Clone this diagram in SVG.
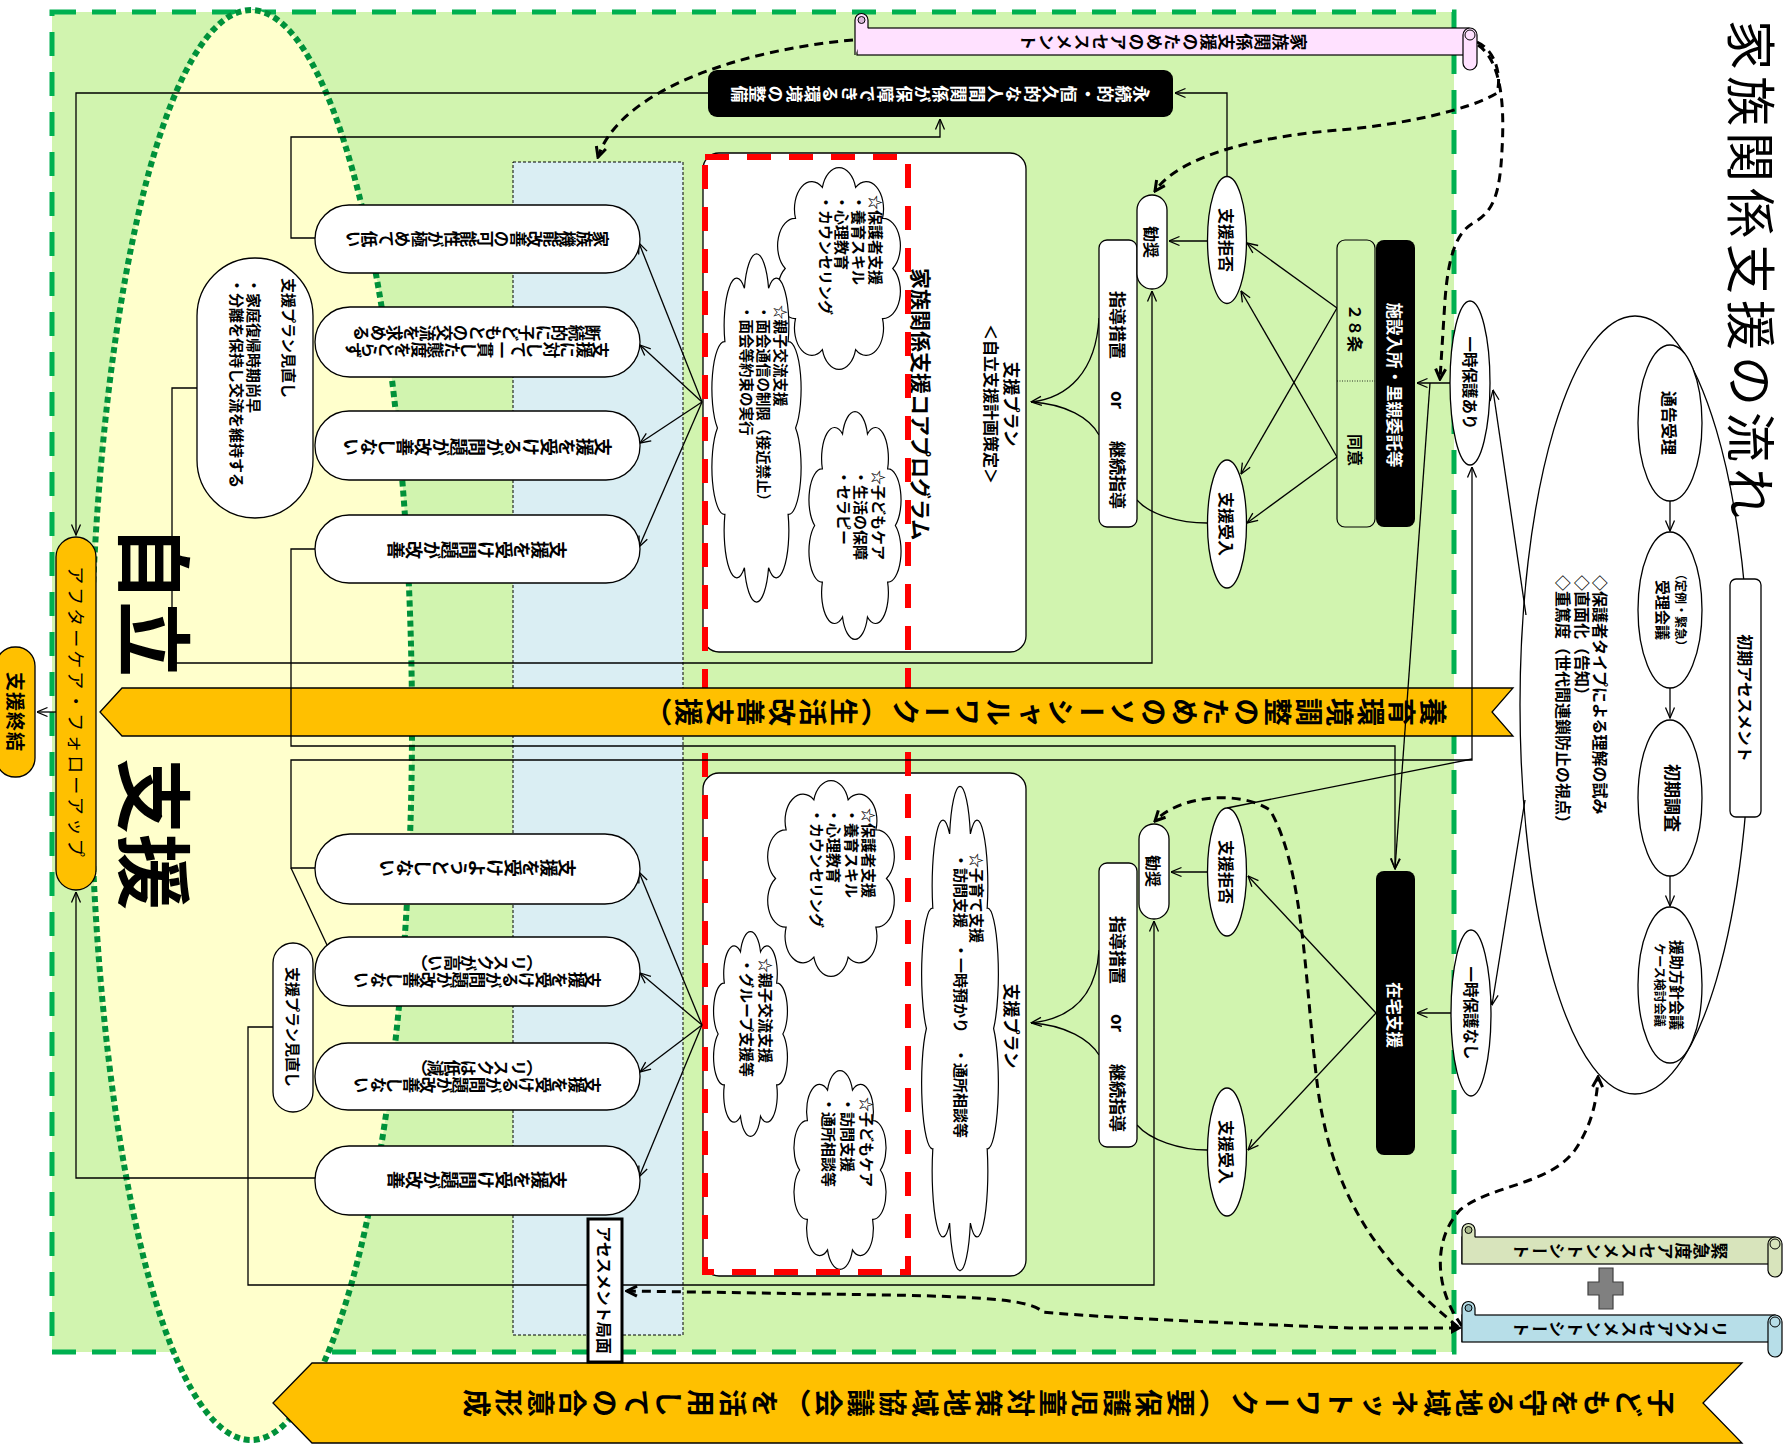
<svg xmlns="http://www.w3.org/2000/svg" width="1792" height="1453" viewBox="0 0 1792 1453">
<style>
text{font-family:'Noto Sans CJK JP','Noto Sans',sans-serif;font-weight:bold;fill:#000}
.h{dominant-baseline:central}
.v{writing-mode:vertical-rl;dominant-baseline:central}
.m{text-anchor:middle}
.nw{font-weight:normal}
.wt{fill:#fff}
.ln{fill:none;stroke:#000;stroke-width:1.3}
.ar{marker-end:url(#ah)}
.dl{fill:none;stroke:#000;stroke-width:3;stroke-dasharray:9 6;marker-end:url(#ad)}
.box{fill:#fff;stroke:#000;stroke-width:1.3}
.org{fill:#FFC000;stroke:#000;stroke-width:1.3}
</style>
<defs>
<marker id="ah" viewBox="0 0 12 12" refX="11.5" refY="6" markerWidth="12" markerHeight="12" markerUnits="userSpaceOnUse" orient="auto"><path d="M1,1.5 L11.5,6 L1,10.5" fill="none" stroke="#000" stroke-width="1.3"/></marker>
<marker id="ad" viewBox="0 0 14 14" refX="12" refY="7" markerWidth="14" markerHeight="14" markerUnits="userSpaceOnUse" orient="auto"><path d="M2,2 L12,7 L2,12" fill="none" stroke="#000" stroke-width="3"/></marker>
<path id="cloud" d="M92,50 A13.5,13.5 0 0 1 83.98,74.69 A13.5,13.5 0 0 1 62.98,89.94 A13.5,13.5 0 0 1 37.02,89.94 A13.5,13.5 0 0 1 16.02,74.69 A13.5,13.5 0 0 1 8,50 A13.5,13.5 0 0 1 16.02,25.31 A13.5,13.5 0 0 1 37.02,10.06 A13.5,13.5 0 0 1 62.98,10.06 A13.5,13.5 0 0 1 83.98,25.31 A13.5,13.5 0 0 1 92,50 Z" fill="#fff" stroke="#000" stroke-width="1.2" vector-effect="non-scaling-stroke"/>
</defs>

<g id="background">
<rect x="52" y="12" width="1402" height="1340" fill="#D1F4AF" stroke="#00B050" stroke-width="5" stroke-dasharray="24 16"/>
<ellipse cx="251" cy="725" rx="161" ry="715" fill="#FFFFCC" stroke="#00913A" stroke-width="6" stroke-dasharray="6 4"/>
<rect x="513" y="162" width="170" height="1173" fill="#DAEEF3" stroke="#000" stroke-width="1" stroke-dasharray="3 2"/>
<text class="h" transform="translate(158,525) rotate(90)" font-size="76">自立</text>
<text class="h" transform="translate(158,758) rotate(90)" font-size="76">支援</text>
</g>

<g id="plan-upper">
<rect x="703" y="153" width="323" height="499" rx="16" class="box"/>
<text class="h" transform="translate(922,268) rotate(90)" font-size="21">家族関係支援コアプログラム</text>
<text class="h m" transform="translate(1012,404) rotate(90)" font-size="17">支援プラン</text>
<text class="h m" transform="translate(992,404) rotate(90)" font-size="16">＜自立支援計画策定＞</text>
</g>
<g id="plan-lower">
<rect x="703" y="773" width="323" height="503" rx="16" class="box"/>
<text class="h m" transform="translate(1012,1026) rotate(90)" font-size="17">支援プラン</text>
</g>

<g id="cloud-1">
<use href="#cloud" transform="translate(775,167) scale(1.28,2.03)"/>
<text class="h" transform="translate(877,195) rotate(90)" font-size="15"><tspan x="0" y="0">☆保護者支援</tspan><tspan x="0" y="17">・養育スキル</tspan><tspan x="0" y="34">・心理教育</tspan><tspan x="0" y="50">・カウンセリング</tspan></text>
</g>
<g id="cloud-2">
<use href="#cloud" transform="translate(710,253) scale(0.93,3.5)"/>
<text class="h" transform="translate(782,305) rotate(90)" font-size="14.5"><tspan x="0" y="0">☆親子交流支援</tspan><tspan x="0" y="17">・面会通信の制限（接近禁止）</tspan><tspan x="0" y="34">・面会等約束の実行</tspan></text>
</g>
<g id="cloud-3">
<use href="#cloud" transform="translate(807,411) scale(0.96,2.29)"/>
<text class="h" transform="translate(880,470) rotate(90)" font-size="15"><tspan x="0" y="0">☆子どもケア</tspan><tspan x="0" y="18">・生活の保障</tspan><tspan x="0" y="35">・セラピー</tspan></text>
</g>
<g id="cloud-4">
<use href="#cloud" transform="translate(765,780) scale(1.32,1.97)"/>
<text class="h" transform="translate(870,808) rotate(90)" font-size="15"><tspan x="0" y="0">☆保護者支援</tspan><tspan x="0" y="17">・養育スキル</tspan><tspan x="0" y="35">・心理教育</tspan><tspan x="0" y="52">・カウンセリング</tspan></text>
</g>
<g id="cloud-5">
<use href="#cloud" transform="translate(920,785) scale(0.8,4.87)"/>
<text class="h" transform="translate(978,853) rotate(90)" font-size="15"><tspan x="0" y="0">☆子育て支援</tspan><tspan x="0" y="16">・訪問支援　・一時預かり　・通所相談等</tspan></text>
</g>
<g id="cloud-6">
<use href="#cloud" transform="translate(712,931) scale(0.77,2.06)"/>
<text class="h" transform="translate(767,958) rotate(90)" font-size="15"><tspan x="0" y="0">☆親子交流支援</tspan><tspan x="0" y="19">・グループ支援等</tspan></text>
</g>
<g id="cloud-7">
<use href="#cloud" transform="translate(792,1070) scale(0.96,2.0)"/>
<text class="h" transform="translate(868,1097) rotate(90)" font-size="15"><tspan x="0" y="0">☆子どもケア</tspan><tspan x="0" y="19">・訪問支援</tspan><tspan x="0" y="38">・通所相談等</tspan></text>
</g>

<rect id="core-program-frame" x="705" y="157" width="203" height="1115" fill="none" stroke="#FF0000" stroke-width="6" stroke-dasharray="24 18"/>

<g id="banner-middle">
<polygon points="100,712 122,688 1513,688 1492,712 1513,736 122,736" class="org"/>
<text class="v" transform="translate(1447,712) rotate(90)" font-size="28" letter-spacing="3">養育環境調整のためのソーシャルワーク（生活改善支援）</text>
</g>
<g id="banner-bottom">
<polygon points="273,1403 312,1363 1742,1363 1703,1403 1742,1443 312,1443" class="org"/>
<text class="v" transform="translate(1675,1403) rotate(90)" font-size="28" letter-spacing="4">子どもを守る地域ネットワーク（要保護児童対策地域協議会）を活用しての合意形成</text>
</g>

<g id="big-ellipse">
<ellipse cx="1635" cy="705" rx="115" ry="389" fill="#fff" stroke="#000" stroke-width="1.3"/>
</g>

<g id="connectors">
<path class="ln ar" d="M197,388 H172 V663 H1152 V291"/>
<path class="ln ar" d="M708,93 H76 V535"/>
<path class="ln ar" d="M315,1178 H76 V892"/>
<path class="ln ar" d="M315,238 H291 V137 H940 V119"/>
<path class="ln ar" d="M1227,177 V93 H1175"/>
<path class="ln ar" d="M1207,241 H1169"/>
<path class="ln ar" d="M315,549 H291 V746 H1395 V869"/>
<path class="ln ar" d="M315,868 H291 V760 H1472 V467"/>
<path class="ln" d="M291,868 L327,945"/>
<path class="ln ar" d="M273,1027 H248 V1285 H1154 V921"/>
<path class="ln" d="M1227,808 L1472,759"/>
<path class="ln ar" d="M1207,872 H1171"/>
<path class="ln ar" d="M1337,308 L1247,243"/>
<path class="ln ar" d="M1337,308 L1241,474"/>
<path class="ln ar" d="M1337,457 L1241,291"/>
<path class="ln ar" d="M1337,457 L1247,523"/>
<path class="ln ar" d="M1099,318 C1096,372 1068,398 1031,402"/>
<path class="ln" d="M1099,435 C1090,418 1066,404 1031,402"/>
<path class="ln" d="M1137,500 C1150,515 1180,523 1207,523"/>
<path class="ln ar" d="M1099,950 C1096,1000 1068,1019 1031,1023"/>
<path class="ln" d="M1099,1055 C1090,1040 1066,1025 1031,1023"/>
<path class="ln" d="M1137,1125 C1150,1140 1180,1150 1207,1150"/>
<path class="ln ar" d="M1376,1013 L1248,876"/>
<path class="ln ar" d="M1376,1013 L1248,1150"/>
<path class="ln ar" d="M1451,1013 H1417"/>
<path class="ln ar" d="M1451,383 H1417"/>
<path class="ln ar" d="M1430,383 L1395,869"/>
<path class="ln ar" d="M1526,615 L1493,390"/>
<path class="ln ar" d="M1525,800 L1492,1005"/>
<path class="ln ar" d="M1670,501 V531"/>
<path class="ln ar" d="M1670,688 V718"/>
<path class="ln ar" d="M1670,876 V906"/>
<path class="ln ar" d="M56,712 H37"/>
<path class="ln ar" d="M702,402 L639,243"/>
<path class="ln ar" d="M702,402 L640,345"/>
<path class="ln ar" d="M702,402 L640,443"/>
<path class="ln ar" d="M702,402 L639,547"/>
<path class="ln ar" d="M702,1025 L639,872"/>
<path class="ln ar" d="M702,1025 L640,973"/>
<path class="ln ar" d="M702,1025 L640,1072"/>
<path class="ln ar" d="M702,1025 L639,1177"/>
<path class="dl" d="M853,40 C740,50 620,90 598,157"/>
<path class="dl" d="M1477,42 C1495,50 1502,75 1497,93 C1470,110 1400,125 1340,130 C1260,136 1180,155 1155,191"/>
<path class="dl" d="M1478,45 C1500,60 1505,100 1502,150 C1500,190 1495,210 1475,222 C1455,232 1448,260 1445,300 L1440,379"/>
<path class="dl" d="M1458,1328 L1350,1328 C1200,1322 1080,1316 1043,1312 C1030,1300 990,1297 890,1295 L627,1291"/>
<path class="dl" d="M1458,1327 C1390,1270 1335,1210 1318,1090 C1305,990 1305,870 1270,810 C1240,790 1180,795 1155,821"/>
<path class="dl" d="M1462,1326 C1435,1290 1432,1240 1460,1210 C1490,1185 1550,1185 1575,1150 C1592,1125 1597,1100 1598,1077"/>
<path d="M1451,1322 L1462,1328 L1451,1334 Z" fill="#000"/>
</g>

<g id="goal-box">
<rect x="708" y="70" width="465" height="47" rx="9" fill="#000"/>
<text class="v m wt" transform="translate(940,94) rotate(90)" font-size="17" letter-spacing="1.3">永続的・恒久的な人間関係が保障できる環境の整備</text>
</g>

<g id="pill-1"><rect x="315" y="205" width="325" height="68" rx="34" class="box"/>
<text class="v m" transform="translate(477,239) rotate(90)" font-size="16.5">家族機能改善の可能性が極めて低い</text></g>
<g id="pill-2"><rect x="315" y="307" width="325" height="70" rx="35" class="box"/>
<text class="v m" transform="translate(477,350) rotate(90)" font-size="16.5">支援に対して一貫した態度をとらず</text>
<text class="v m" transform="translate(477,333) rotate(90)" font-size="16.5">断続的に子どもとの交流を求める</text></g>
<g id="pill-3"><rect x="315" y="411" width="325" height="69" rx="34" class="box"/>
<text class="v m" transform="translate(477,447) rotate(90)" font-size="18">支援を受けるが問題が改善しない</text></g>
<g id="pill-4"><rect x="315" y="515" width="325" height="68" rx="34" class="box"/>
<text class="v m" transform="translate(477,550) rotate(90)" font-size="18">支援を受け問題が改善</text></g>
<g id="pill-5"><rect x="315" y="834" width="325" height="70" rx="35" class="box"/>
<text class="v m" transform="translate(477,868) rotate(90)" font-size="18">支援を受けようとしない</text></g>
<g id="pill-6"><rect x="315" y="937" width="325" height="69" rx="34" class="box"/>
<text class="v m" transform="translate(477,980) rotate(90)" font-size="16.5">支援を受けるが問題が改善しない</text>
<text class="v m" transform="translate(477,963) rotate(90)" font-size="16.5">（リスクが高い）</text></g>
<g id="pill-7"><rect x="315" y="1043" width="325" height="67" rx="33" class="box"/>
<text class="v m" transform="translate(477,1085) rotate(90)" font-size="16.5">支援を受けるが問題が改善しない</text>
<text class="v m" transform="translate(477,1068) rotate(90)" font-size="16.5">（リスクは低減）</text></g>
<g id="pill-8"><rect x="315" y="1146" width="325" height="69" rx="34" class="box"/>
<text class="v m" transform="translate(477,1180) rotate(90)" font-size="18">支援を受け問題が改善</text></g>

<g id="review-upper"><rect x="197" y="258" width="116" height="260" rx="58" class="box"/>
<text class="h" transform="translate(290,278) rotate(90)" font-size="15"><tspan x="0" y="0">支援プラン見直し</tspan><tspan x="0" y="35">・家庭復帰時期尚早</tspan><tspan x="0" y="52">・分離を保持し交流を維持する</tspan></text></g>
<g id="review-lower"><rect x="273" y="943" width="40" height="169" rx="20" class="box"/>
<text class="h m" transform="translate(293,1027) rotate(90)" font-size="15">支援プラン見直し</text></g>

<g id="aftercare"><rect x="56" y="537" width="40" height="353" rx="20" class="org"/>
<text class="h m nw" transform="translate(77,713) rotate(90)" font-size="18" letter-spacing="3">アフターケア・フォローアップ</text></g>
<g id="support-end"><rect x="-4" y="647" width="39" height="130" rx="19" class="org"/>
<text class="h m" transform="translate(16,712) rotate(90)" font-size="19" letter-spacing="1">支援終結</text></g>

<g id="assessment-phase"><rect x="588" y="1219" width="34" height="143" fill="#fff" stroke="#000" stroke-width="3"/>
<text class="h m" transform="translate(605,1290) rotate(90)" font-size="16">アセスメント局面</text></g>

<g id="guidance-upper"><rect x="1099" y="240" width="38" height="287" rx="8" class="box"/>
<text class="h m" transform="translate(1118,325) rotate(90)" font-size="17">指導措置</text>
<text class="h m" transform="translate(1118,400) rotate(90)" font-size="17">or</text>
<text class="h m" transform="translate(1118,475) rotate(90)" font-size="17">継続指導</text></g>
<g id="guidance-lower"><rect x="1099" y="863" width="38" height="284" rx="8" class="box"/>
<text class="h m" transform="translate(1118,950) rotate(90)" font-size="17">指導措置</text>
<text class="h m" transform="translate(1118,1023) rotate(90)" font-size="17">or</text>
<text class="h m" transform="translate(1118,1098) rotate(90)" font-size="17">継続指導</text></g>

<g id="recommend-upper"><rect x="1137" y="195" width="30" height="94" rx="15" class="box"/>
<text class="h m" transform="translate(1152,242) rotate(90)" font-size="16">勧奨</text></g>
<g id="recommend-lower"><rect x="1139" y="824" width="30" height="95" rx="15" class="box"/>
<text class="h m" transform="translate(1154,871) rotate(90)" font-size="16">勧奨</text></g>

<g id="refuse-upper"><ellipse cx="1227" cy="240" rx="19.5" ry="63.5" class="box"/>
<text class="h m" transform="translate(1227,240) rotate(90)" font-size="16">支援拒否</text></g>
<g id="accept-upper"><ellipse cx="1227" cy="524" rx="19.5" ry="64" class="box"/>
<text class="h m" transform="translate(1227,524) rotate(90)" font-size="16">支援受入</text></g>
<g id="refuse-lower"><ellipse cx="1227" cy="872" rx="19.5" ry="64" class="box"/>
<text class="h m" transform="translate(1227,872) rotate(90)" font-size="16">支援拒否</text></g>
<g id="accept-lower"><ellipse cx="1227" cy="1152" rx="19.5" ry="64" class="box"/>
<text class="h m" transform="translate(1227,1152) rotate(90)" font-size="16">支援受入</text></g>

<g id="art28"><rect x="1337" y="240" width="38" height="287" rx="8" fill="#D1F4AF" stroke="#000" stroke-width="1.2"/>
<line x1="1337" y1="381" x2="1375" y2="381" stroke="#000" stroke-width="0.8" stroke-dasharray="1 1.5"/>
<text class="h m" transform="translate(1356,328) rotate(90)" font-size="16">２８条</text>
<text class="h m" transform="translate(1356,450) rotate(90)" font-size="16">同意</text></g>
<g id="placement"><rect x="1376" y="240" width="39" height="287" rx="8" fill="#000"/>
<text class="h m wt" transform="translate(1395,385) rotate(90)" font-size="16.5">施設入所・里親委託等</text></g>
<g id="home-support"><rect x="1376" y="871" width="39" height="284" rx="8" fill="#000"/>
<text class="h m wt" transform="translate(1395,1015) rotate(90)" font-size="16.5">在宅支援</text></g>

<g id="protect-yes"><ellipse cx="1470" cy="383" rx="20" ry="82" class="box"/>
<text class="h m" transform="translate(1471,383) rotate(90)" font-size="15.5">一時保護あり</text></g>
<g id="protect-no"><ellipse cx="1471" cy="1013" rx="20" ry="83" class="box"/>
<text class="h m" transform="translate(1472,1013) rotate(90)" font-size="15.5">一時保護なし</text></g>

<g id="stage-1"><ellipse cx="1670" cy="423" rx="32" ry="78" class="box"/>
<text class="h m" transform="translate(1670,423) rotate(90)" font-size="16">通告受理</text></g>
<g id="stage-2"><ellipse cx="1670" cy="610" rx="32" ry="78" class="box"/>
<text class="h m" transform="translate(1681,610) rotate(90)" font-size="12">（定例・緊急）</text>
<text class="h m" transform="translate(1663,610) rotate(90)" font-size="15">受理会議</text></g>
<g id="stage-3"><ellipse cx="1670" cy="798" rx="32" ry="78" class="box"/>
<text class="h m" transform="translate(1673,798) rotate(90)" font-size="17">初期調査</text></g>
<g id="stage-4"><ellipse cx="1670" cy="985" rx="32" ry="78" class="box"/>
<text class="h m" transform="translate(1677,985) rotate(90)" font-size="15">援助方針会議</text>
<text class="h m" transform="translate(1660,985) rotate(90)" font-size="12">ケース検討会議</text></g>
<g id="initial-assessment"><rect x="1730" y="579" width="31" height="238" rx="6" class="box"/>
<text class="h m" transform="translate(1746,698) rotate(90)" font-size="16">初期アセスメント</text></g>
<g id="points">
<text class="h" transform="translate(1601,575) rotate(90)" font-size="16"><tspan x="0" y="0">◇保護者タイプによる理解の試み</tspan><tspan x="0" y="18">◇直面化（告知）</tspan><tspan x="0" y="37">◇重篤度（世代間連鎖防止の視点）</tspan></text>
</g>

<g id="scroll-family">
<rect x="857" y="28" width="612" height="27" fill="#FFE1FF" stroke="#000" stroke-width="1.2"/>
<path d="M855,55 V20 a6.5,6.5 0 0 1 13,0 V28" fill="#FFE1FF" stroke="#000" stroke-width="1.2"/>
<circle cx="861.5" cy="20" r="3.5" fill="#D8B8D8" stroke="#000" stroke-width="1"/>
<rect x="1463" y="28" width="14" height="42" rx="7" fill="#FFE1FF" stroke="#000" stroke-width="1.2"/>
<circle cx="1470" cy="35" r="5" fill="#FFE1FF" stroke="#000" stroke-width="1"/>
<text class="v" transform="translate(1307,42) rotate(90)" font-size="17" letter-spacing="1">家族関係支援のためのアセスメント</text>
</g>
<g id="scroll-urgency">
<rect x="1462" y="1237" width="313" height="27" fill="#D8E4BC" stroke="#000" stroke-width="1.2"/>
<path d="M1462,1264 V1230 a6.5,6.5 0 0 1 13,0 V1237" fill="#D8E4BC" stroke="#000" stroke-width="1.2"/>
<circle cx="1468.5" cy="1230" r="3.5" fill="#A9B98A" stroke="#000" stroke-width="1"/>
<rect x="1768" y="1237" width="14" height="40" rx="7" fill="#D8E4BC" stroke="#000" stroke-width="1.2"/>
<circle cx="1775" cy="1244" r="5" fill="#D8E4BC" stroke="#000" stroke-width="1"/>
<text class="v" transform="translate(1728,1251) rotate(90)" font-size="17" letter-spacing="1">緊急度アセスメントシート</text>
</g>
<g id="plus"><path d="M1599,1268 H1613 V1282 H1623 V1295 H1613 V1309 H1599 V1295 H1588 V1282 H1599 Z" fill="#808080" stroke="#404040" stroke-width="1.2"/></g>
<g id="scroll-risk">
<rect x="1462" y="1315" width="313" height="27" fill="#B7DEE8" stroke="#000" stroke-width="1.2"/>
<path d="M1462,1342 V1308 a6.5,6.5 0 0 1 13,0 V1315" fill="#B7DEE8" stroke="#000" stroke-width="1.2"/>
<circle cx="1468.5" cy="1308" r="3.5" fill="#8AB4C0" stroke="#000" stroke-width="1"/>
<rect x="1768" y="1315" width="14" height="42" rx="7" fill="#B7DEE8" stroke="#000" stroke-width="1.2"/>
<circle cx="1775" cy="1322" r="5" fill="#B7DEE8" stroke="#000" stroke-width="1"/>
<text class="v" transform="translate(1728,1329) rotate(90)" font-size="17" letter-spacing="1">リスクアセスメントシート</text>
</g>

<g id="title"><text class="h nw" transform="translate(1754,20) rotate(90)" font-size="50" letter-spacing="6">家族関係支援の流れ</text></g>
</svg>
